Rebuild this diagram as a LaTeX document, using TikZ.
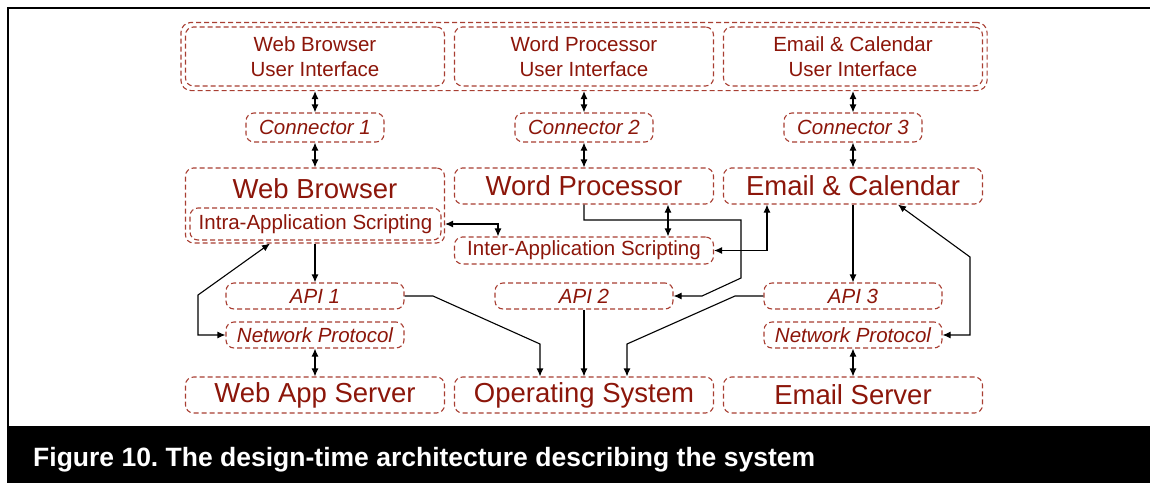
\documentclass[tikz,border=0pt]{standalone}
\usepackage{fontspec}
\setmainfont{Liberation Sans}
\usetikzlibrary{arrows.meta,fit}

\definecolor{boxred}{RGB}{168,62,50}
\definecolor{textred}{RGB}{140,22,10}

\begin{document}
\frenchspacing
\begin{tikzpicture}[x=1pt, y=-1pt, >={Latex[length=8pt,width=7pt]},
  default/.style={draw=boxred, line width=1.1pt, dash pattern=on 5pt off 3pt,
    rounded corners=8pt, fill=white, inner sep=0pt, text=textred, align=center},
  uibox/.style={default, minimum width=259pt, minimum height=59pt,
    font=\fontsize{20.5}{25}\selectfont},
  conbox/.style={default, minimum width=138pt, minimum height=29pt,
    font=\fontsize{20.5}{25}\selectfont\itshape},
  appbox/.style={default, minimum width=259pt, minimum height=36pt,
    font=\fontsize{27.5}{30}\selectfont},
  scriptbox/.style={default, minimum height=27pt,
    font=\fontsize{20.5}{25}\selectfont},
  apibox/.style={default, minimum width=178pt, minimum height=26pt,
    font=\fontsize{20.5}{25}\selectfont\itshape},
  link/.style={black, line width=1.1pt}]
\useasboundingbox (0,0) rectangle (1150,483);
% frame and caption
\draw[black, line width=2pt] (8,426) -- (8,8) -- (1150,8);
\fill[black] (7,426) rectangle (1150,483);
\node[anchor=base west, inner sep=0pt, text=white,
  font=\fontsize{26.5}{30}\selectfont\bfseries] (caption) at (33,466)
  {Figure 10. The design-time architecture describing the system};
% user interfaces
\node[uibox] (ui1) at (315,56.5) {Web Browser\\User Interface};
\node[uibox] (ui2) at (584,56.5) {Word Processor\\User Interface};
\node[uibox] (ui3) at (853,56.5) {Email \& Calendar\\User Interface};
\node[default, fill=none, inner sep=4pt, rounded corners=10pt, fit=(ui1)(ui3)] (uiall) {};
% connectors
\node[conbox] (con1) at (315,127.5) {Connector 1};
\node[conbox] (con2) at (584,127.5) {Connector 2};
\node[conbox] (con3) at (853,127.5) {Connector 3};
% applications
\node[default, minimum width=259pt, minimum height=75pt] (wb) at (315,205.5) {};
\node[text=textred, font=\fontsize{27.5}{30}\selectfont] (wbtitle) at (315,189) {Web Browser};
\node[scriptbox, minimum width=251pt, minimum height=32pt] (intra) at (315.5,224) {Intra-Application Scripting};
\node[appbox] (wp) at (584,186) {Word Processor};
\node[appbox] (ec) at (853,186) {Email \& Calendar};
\node[scriptbox, minimum width=259pt] (inter) at (584,250.5) {Inter-Application Scripting};
% apis and protocols
\node[apibox] (api1) at (315,296) {API 1};
\node[apibox] (api2) at (584,296) {API 2};
\node[apibox] (api3) at (853,296) {API 3};
\node[apibox] (np1) at (315,335) {Network Protocol};
\node[apibox] (np2) at (853,335) {Network Protocol};
% servers
\node[appbox] (was) at (315,395) {Web App Server};
\node[appbox] (os) at (584,395) {Operating System};
\node[appbox] (es) at (853,395) {Email Server};
% links
\draw[link, <->] (con1 |- uiall.south) -- (con1.north);
\draw[link, <->] (con2 |- uiall.south) -- (con2.north);
\draw[link, <->] (con3 |- uiall.south) -- (con3.north);
\draw[link, <->] (con1.south) -- (wb.north);
\draw[link, <->] (con2.south) -- (wp.north);
\draw[link, <->] (con3.south) -- (ec.north);
\draw[link, ->] (wb.south) -- (api1.north);
\draw[link, <->] (wb.east |- intra) -| ([xshift=-86pt]inter.north);
\draw[link, <->] ([xshift=84pt]wp.south) -- ([xshift=84pt]inter.north);
\draw[link, <->] (inter.east) -| ([xshift=-86pt]ec.south);
\draw[link, ->] (wp.south) |- (741,220) -- (741,278) -- (702,296) -- (api2.east);
\draw[link, ->] (ec.south) -- (api3.north);
\draw[link, ->] (api1.east) -- (433,296) -- (540,344) -- ([xshift=-44pt]os.north);
\draw[link, ->] (api2.south) -- (os.north);
\draw[link, ->] (api3.west) -- (735,296) -- (627,344) -- ([xshift=43pt]os.north);
\draw[link, <->] ([xshift=-45pt]wb.south) -- (198,295) |- (np1.west);
\draw[link, <->] ([xshift=45pt]ec.south) -- (970,257) |- (np2.east);
\draw[link, <->] (np1.south) -- (was.north);
\draw[link, <->] (np2.south) -- (es.north);
\end{tikzpicture}
\end{document}
